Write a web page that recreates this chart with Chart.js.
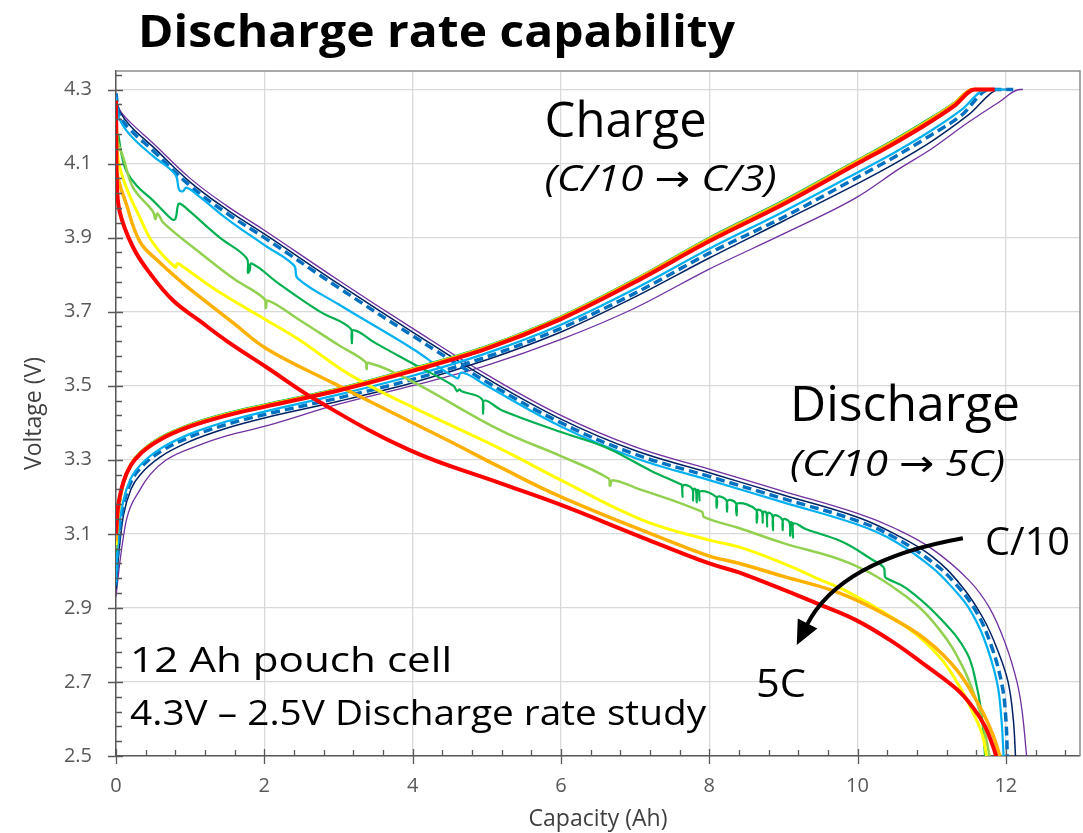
<!DOCTYPE html>
<html>
<head>
<meta charset="utf-8">
<script src="https://cdn.jsdelivr.net/npm/chart.js@4.4.1/dist/chart.umd.min.js"></script>
<style>
  body { margin: 0; background: #fff; }
  canvas { display: block; }
</style>
</head>
<body>
<canvas id="c" width="1083" height="833"></canvas>
<script>
// axis ticks
var xTicks = [0, 2, 4, 6, 8, 10, 12];
var yTicks = [2.5, 2.7, 2.9, 3.1, 3.3, 3.5, 3.7, 3.9, 4.1, 4.3];

// discharge curves (capacity Ah, voltage V)
var dRedX = [0, 0.005, 0.01, 0.05, 0.23, 0.46, 0.77, 1.13, 1.5, 2.03, 2.71, 3.96, 5.18, 6.0, 7.1, 8.0, 8.41, 9.54, 10.0, 10.5, 10.88, 11.34, 11.56, 11.72, 11.82, 11.87];
var dRedV = [4.27, 4.15, 4.06, 3.97, 3.874, 3.803, 3.73, 3.675, 3.62, 3.55, 3.46, 3.326, 3.237, 3.178, 3.09, 3.02, 2.995, 2.905, 2.865, 2.805, 2.75, 2.68, 2.63, 2.58, 2.53, 2.5];
var dOrangeX = [0, 0.01, 0.14, 0.32, 0.55, 0.9, 1.13, 1.58, 2.03, 2.93, 4.0, 4.5, 5.18, 6.0, 7.43, 8.0, 8.41, 9.0, 9.76, 10.44, 10.93, 11.34, 11.65, 11.82, 11.92];
var dOrangeV = [4.2, 4.08, 3.99, 3.89, 3.84, 3.777, 3.74, 3.67, 3.6, 3.507, 3.4, 3.35, 3.28, 3.2, 3.083, 3.04, 3.02, 2.985, 2.94, 2.875, 2.813, 2.732, 2.633, 2.56, 2.5];
var dYellowX = [0.01, 0.03, 0.14, 0.32, 0.5, 0.8, 0.83, 0.88, 1.36, 2.03, 2.48, 3.15, 4.0, 5.18, 6.0, 7.1, 8.0, 8.41, 9.0, 9.45, 9.9, 10.66, 11.11, 11.38, 11.56, 11.68, 11.74];
var dYellowV = [4.2, 4.11, 4.035, 3.955, 3.885, 3.82, 3.83, 3.825, 3.757, 3.677, 3.623, 3.53, 3.442, 3.33, 3.245, 3.137, 3.083, 3.064, 3.02, 2.98, 2.94, 2.848, 2.767, 2.686, 2.616, 2.56, 2.5];
var dLgreenX = [0.02, 0.1, 0.23, 0.5, 0.53, 0.56, 0.64, 1.09, 1.58, 2.0, 2.02, 2.05, 2.48, 3.0, 3.36, 3.38, 3.4, 3.96, 5.18, 6.0, 6.64, 6.66, 6.7, 7.0, 7.9, 7.93, 8.41, 9.0, 9.9, 10.66, 11.11, 11.42, 11.6, 11.7, 11.78];
var dLgreenV = [4.16, 4.115, 4.035, 3.97, 3.95, 3.965, 3.94, 3.866, 3.79, 3.735, 3.71, 3.73, 3.677, 3.61, 3.565, 3.545, 3.562, 3.515, 3.38, 3.31, 3.25, 3.23, 3.245, 3.225, 3.16, 3.145, 3.115, 3.075, 3.02, 2.93, 2.84, 2.74, 2.65, 2.58, 2.5];
var dGreenX = [0.03, 0.08, 0.14, 0.28, 0.5, 0.75, 0.8, 0.84, 0.88, 1.0, 1.4, 1.76, 1.78, 1.8, 1.83, 2.2, 2.75, 3.16, 3.18, 3.2, 3.5, 4.0, 4.55, 4.6, 4.63, 4.66, 4.93, 4.95, 4.97, 5.2, 6.0, 6.6, 7.2, 7.6,
  7.63, 7.64, 7.65, 7.77, 7.78, 7.79, 7.82, 7.83, 7.84, 7.86, 7.87, 7.88, 8.09, 8.1, 8.11, 8.23, 8.24, 8.25, 8.36, 8.37, 8.38, 8.63, 8.64, 8.65, 8.71, 8.72, 8.73,
  8.77, 8.78, 8.79, 8.85, 8.86, 8.87, 8.98, 8.99, 9.0, 9.08, 9.09, 9.1, 9.12, 9.13, 9.14,
  9.3, 9.8, 10.2, 10.35, 10.37, 10.39, 10.66, 11.1, 11.47, 11.61, 11.68, 11.72];
var dGreenV = [4.18, 4.12, 4.08, 4.04, 4.0, 3.95, 3.95, 3.99, 3.99, 3.97, 3.9, 3.845, 3.805, 3.81, 3.83, 3.775, 3.70, 3.655, 3.615, 3.65, 3.615, 3.56, 3.5, 3.485, 3.49, 3.485, 3.465, 3.425, 3.46, 3.434, 3.375, 3.334, 3.272, 3.235,
  3.232, 3.2, 3.231, 3.222, 3.19, 3.221, 3.219, 3.185, 3.218, 3.216, 3.19, 3.215, 3.2, 3.17, 3.2, 3.191, 3.16, 3.19, 3.183, 3.15, 3.182, 3.165, 3.13, 3.164, 3.16, 3.13, 3.159,
  3.157, 3.12, 3.156, 3.15, 3.11, 3.149, 3.14, 3.11, 3.139, 3.132, 3.095, 3.131, 3.129, 3.09, 3.128,
  3.113, 3.078, 3.03, 3.01, 2.985, 2.98, 2.953, 2.875, 2.78, 2.686, 2.6, 2.5];
var dLblueX = [0, 0.05, 0.2, 0.5, 0.8, 0.85, 0.9, 0.95, 1.1, 1.5, 2, 2.4, 2.45, 3, 4, 4.6, 4.65, 4.75, 5, 6, 7, 8, 9, 10, 10.5, 11, 11.3, 11.5, 11.7, 11.88, 11.94, 11.97];
var dLblueV = [4.28, 4.22, 4.175, 4.12, 4.07, 4.03, 4.025, 4.035, 4.015, 3.95, 3.88, 3.825, 3.79, 3.72, 3.6, 3.52, 3.535, 3.53, 3.5, 3.39, 3.305, 3.245, 3.185, 3.125, 3.08, 3.01, 2.95, 2.9, 2.82, 2.7, 2.6, 2.5];
var dBlueX = [0, 0.05, 0.2, 0.5, 1, 1.5, 2, 3, 4, 5, 6, 7, 8, 9, 10, 10.5, 11, 11.3, 11.6, 11.8, 11.95, 12.0, 12.02];
var dBlueV = [4.29, 4.23, 4.19, 4.135, 4.04, 3.965, 3.9, 3.765, 3.635, 3.51, 3.4, 3.315, 3.255, 3.195, 3.135, 3.09, 3.025, 2.97, 2.89, 2.8, 2.69, 2.6, 2.5];
var dNavyX = [0, 0.05, 0.2, 0.5, 1, 1.5, 2, 3, 4, 5, 6, 7, 8, 9, 10, 10.5, 11, 11.4, 11.7, 11.9, 12.03, 12.1, 12.13];
var dNavyV = [4.27, 4.24, 4.2, 4.145, 4.05, 3.975, 3.91, 3.775, 3.645, 3.52, 3.41, 3.325, 3.265, 3.205, 3.145, 3.1, 3.04, 2.96, 2.87, 2.78, 2.7, 2.6, 2.5];
var dPurpleX = [0, 0.05, 0.2, 0.5, 1, 1.5, 2, 3, 4, 5, 6, 7, 8, 9, 10, 10.5, 11, 11.5, 11.78, 12.0, 12.15, 12.22, 12.28];
var dPurpleV = [4.28, 4.245, 4.21, 4.155, 4.06, 3.985, 3.92, 3.785, 3.655, 3.53, 3.42, 3.335, 3.275, 3.215, 3.155, 3.115, 3.06, 2.975, 2.9, 2.8, 2.7, 2.62, 2.5];

// charge curves
var cRedX = [0, 0.02, 0.05, 0.1, 0.2, 0.35, 0.6, 1.0, 1.5, 2, 3, 4, 5, 6, 7, 8, 9, 10, 10.5, 11, 11.3, 11.58, 11.85];
var cRedV = [3.1, 3.16, 3.2, 3.24, 3.285, 3.32, 3.355, 3.39, 3.42, 3.443, 3.487, 3.54, 3.6, 3.68, 3.78, 3.89, 3.99, 4.1, 4.155, 4.215, 4.255, 4.3, 4.3];
var cOrangeX = [0, 0.02, 0.05, 0.1, 0.2, 0.35, 0.6, 1.0, 1.5, 2, 3, 4, 5, 6, 7, 8, 9, 10, 10.5, 11, 11.3, 11.55, 11.8];
var cOrangeV = [3.08, 3.15, 3.195, 3.24, 3.287, 3.322, 3.357, 3.392, 3.422, 3.445, 3.489, 3.543, 3.603, 3.683, 3.784, 3.895, 3.995, 4.105, 4.16, 4.22, 4.26, 4.3, 4.3];
var cYellowX = [0, 0.02, 0.05, 0.1, 0.2, 0.35, 0.6, 1.0, 1.5, 2, 3, 4, 5, 6, 7, 8, 9, 10, 10.5, 11, 11.3, 11.55, 11.75];
var cYellowV = [3.07, 3.14, 3.19, 3.237, 3.286, 3.322, 3.358, 3.393, 3.423, 3.446, 3.49, 3.544, 3.604, 3.684, 3.785, 3.896, 3.996, 4.106, 4.161, 4.221, 4.261, 4.3, 4.3];
var cLgreenX = [0, 0.02, 0.05, 0.1, 0.2, 0.35, 0.6, 1.0, 1.5, 2, 3, 4, 5, 6, 7, 8, 9, 10, 10.5, 11, 11.3, 11.55, 11.72];
var cLgreenV = [3.06, 3.13, 3.185, 3.235, 3.287, 3.323, 3.359, 3.394, 3.424, 3.447, 3.491, 3.545, 3.605, 3.685, 3.786, 3.898, 3.998, 4.108, 4.163, 4.223, 4.262, 4.3, 4.3];
var cGreenX = [0, 0.02, 0.05, 0.1, 0.2, 0.35, 0.6, 1.0, 1.5, 2, 3, 4, 5, 6, 7, 8, 9, 10, 10.5, 11, 11.3, 11.54, 11.7];
var cGreenV = [3.05, 3.12, 3.18, 3.232, 3.288, 3.325, 3.361, 3.396, 3.426, 3.449, 3.493, 3.547, 3.607, 3.687, 3.788, 3.9, 4.0, 4.11, 4.165, 4.225, 4.264, 4.3, 4.3];
var cLblueX = [0, 0.02, 0.05, 0.1, 0.2, 0.35, 0.6, 1.0, 1.5, 2, 3, 4, 5, 6, 7, 8, 9, 10, 10.5, 11, 11.4, 11.74, 12.0];
var cLblueV = [2.97, 3.06, 3.13, 3.19, 3.25, 3.29, 3.33, 3.37, 3.404, 3.43, 3.476, 3.527, 3.588, 3.665, 3.762, 3.87, 3.97, 4.076, 4.13, 4.19, 4.245, 4.3, 4.3];
var cBlueX = [0, 0.02, 0.05, 0.1, 0.2, 0.35, 0.6, 1.0, 1.5, 2, 3, 4, 5, 6, 7, 8, 9, 10, 10.5, 11, 11.4, 11.78, 12.1];
var cBlueV = [2.96, 3.04, 3.11, 3.175, 3.24, 3.282, 3.322, 3.362, 3.396, 3.422, 3.467, 3.517, 3.578, 3.655, 3.75, 3.858, 3.955, 4.063, 4.118, 4.178, 4.23, 4.3, 4.3];
var cNavyX = [0, 0.03, 0.06, 0.1, 0.2, 0.35, 0.6, 1.0, 1.5, 2, 3, 4, 5, 6, 7, 8, 9, 10, 10.5, 11, 11.5, 11.92, 12.05];
var cNavyV = [2.95, 3.03, 3.09, 3.15, 3.22, 3.265, 3.308, 3.35, 3.386, 3.413, 3.458, 3.508, 3.57, 3.645, 3.74, 3.845, 3.945, 4.046, 4.1, 4.16, 4.232, 4.3, 4.3];
var cPurpleX = [0, 0.05, 0.14, 0.32, 0.46, 0.68, 1.13, 1.5, 2, 3, 4, 5, 6, 7, 8, 9, 10, 10.57, 11, 11.47, 11.9, 12.19, 12.23];
var cPurpleV = [2.93, 3.02, 3.137, 3.218, 3.26, 3.3, 3.34, 3.365, 3.39, 3.45, 3.5, 3.555, 3.625, 3.71, 3.815, 3.91, 4.01, 4.087, 4.14, 4.208, 4.265, 4.3, 4.3];

var FONT = "'Open Sans', 'Noto Sans', sans-serif";
Chart.defaults.font.family = FONT;
Chart.defaults.font.size = 20;

function pts(xs, vs) {
    var out = [];
    for (var i = 0; i < xs.length; i++) out.push({ x: xs[i], y: vs[i] });
    return out;
}

// first entry ends up drawn on top
var series = [
    { color: '#FF0000', width: 4,   d: [dRedX, dRedV],       c: [cRedX, cRedV] },
    { color: '#FFB000', width: 3.5, d: [dOrangeX, dOrangeV], c: [cOrangeX, cOrangeV] },
    { color: '#FFFF00', width: 3,   d: [dYellowX, dYellowV], c: [cYellowX, cYellowV] },
    { color: '#92D050', width: 2.5, d: [dLgreenX, dLgreenV], c: [cLgreenX, cLgreenV] },
    { color: '#00B050', width: 2.2, d: [dGreenX, dGreenV],   c: [cGreenX, cGreenV] },
    { color: '#00B0F0', width: 2.2, d: [dLblueX, dLblueV],   c: [cLblueX, cLblueV] },
    { color: '#0070C0', width: 3.5, d: [dBlueX, dBlueV],     c: [cBlueX, cBlueV], dash: [9, 5] },
    { color: '#002060', width: 1.5, d: [dNavyX, dNavyV],     c: [cNavyX, cNavyV] },
    { color: '#7030A0', width: 1.3, d: [dPurpleX, dPurpleV], c: [cPurpleX, cPurpleV] }
];

var datasets = [];
series.forEach(function (s) {
    // charge: monotone spline, discharge: plain bezier
    datasets.push({
        data: pts(s.c[0], s.c[1]),
        borderColor: s.color, borderWidth: s.width, borderDash: s.dash || [],
        showLine: true, pointRadius: 0, fill: false,
        cubicInterpolationMode: 'monotone'
    });
    datasets.push({
        data: pts(s.d[0], s.d[1]),
        borderColor: s.color, borderWidth: s.width, borderDash: s.dash || [],
        showLine: true, pointRadius: 0, fill: false,
        tension: 0.4
    });
});

// runs: [[text, font], ...] drawn in a row, squeezed to width w
function fitRuns(ctx, runs, x, y, w) {
    var total = 0;
    runs.forEach(function (r) { ctx.font = r[1]; r.w = ctx.measureText(r[0]).width; total += r.w; });
    ctx.save();
    ctx.translate(x, y);
    ctx.scale(w / total, 1);
    var cx = 0;
    runs.forEach(function (r) { ctx.font = r[1]; ctx.fillText(r[0], cx, 0); cx += r.w; });
    ctx.restore();
}

//Decorations: frame, tick marks, notes, arrow
var deco = {
    id: 'deco',
    afterDatasetsDraw: function (chart) {
        var ctx = chart.ctx, a = chart.chartArea;
        var sx = chart.scales.x, sy = chart.scales.y;
        ctx.save();

        ctx.strokeStyle = '#8c8c8c';
        ctx.lineWidth = 1.5;
        ctx.beginPath();
        ctx.moveTo(a.left, a.top);
        ctx.lineTo(a.right, a.top);
        ctx.lineTo(a.right, a.bottom);
        ctx.stroke();

        ctx.strokeStyle = '#595959';
        ctx.lineWidth = 1.3;
        ctx.beginPath();
        for (var k = 0; k <= 46; k++) {
            var py = Math.round(sy.getPixelForValue(2.5 + k * 0.04)) + 0.5;
            if (k % 5 === 0) { ctx.moveTo(a.left - 8, py); ctx.lineTo(a.left + 7, py); }
            else { ctx.moveTo(a.left, py); ctx.lineTo(a.left + 6, py); }
        }
        for (var j = 0; j <= 32; j++) {
            var px = Math.round(sx.getPixelForValue(j * 0.4)) + 0.5;
            if (j % 5 === 0) { ctx.moveTo(px, a.bottom - 7); ctx.lineTo(px, a.bottom + 8); }
            else { ctx.moveTo(px, a.bottom); ctx.lineTo(px, a.bottom - 6); }
        }
        ctx.stroke();

        ctx.fillStyle = '#000';
        ctx.textBaseline = 'alphabetic';
        ctx.textAlign = 'left';
        fitRuns(ctx, [['Discharge rate capability', 'bold 45px ' + FONT]], 138, 47, 597);

        var f50 = '50px ' + FONT, it = 'italic 37px ' + FONT, arr = '37px "DejaVu Sans", sans-serif';
        function note(runs, x, v, w) {
            fitRuns(ctx, runs, sx.getPixelForValue(x), sy.getPixelForValue(v), w);
        }
        note([['Charge', f50]], 5.78, 4.173, 162);
        note([['(C/10 ', it], ['\u2192', arr], [' C/3)', it]], 5.78, 4.025, 232);
        note([['Discharge', f50]], 9.09, 3.404, 230);
        note([['(C/10 ', it], ['\u2192', arr], [' 5C)', it]], 9.09, 3.256, 215);
        note([['C/10', '38px ' + FONT]], 11.72, 3.043, 85);
        note([['5C', '38px ' + FONT]], 8.63, 2.66, 50);
        note([['12 Ah pouch cell', '34px ' + FONT]], 0.19, 2.727, 322);
        note([['4.3V \u2013 2.5V Discharge rate study', '34px ' + FONT]], 0.19, 2.584, 576);

        // curved arrow C/10 -> 5C
        var S = { x: sx.getPixelForValue(11.42), y: sy.getPixelForValue(3.088) };
        var C = { x: sx.getPixelForValue(9.76), y: sy.getPixelForValue(3.029) };
        var T = { x: sx.getPixelForValue(9.18), y: sy.getPixelForValue(2.80) };
        var dx = T.x - C.x, dy = T.y - C.y, L = Math.sqrt(dx * dx + dy * dy);
        dx /= L; dy /= L;
        var B = { x: T.x - dx * 24, y: T.y - dy * 24 };
        ctx.strokeStyle = '#000';
        ctx.lineWidth = 4;
        ctx.beginPath();
        ctx.moveTo(S.x, S.y);
        ctx.quadraticCurveTo(C.x, C.y, B.x + dx * 2, B.y + dy * 2);
        ctx.stroke();
        ctx.beginPath();
        ctx.moveTo(T.x, T.y);
        ctx.lineTo(B.x - dy * 11, B.y + dx * 11);
        ctx.lineTo(B.x + dy * 11, B.y - dx * 11);
        ctx.closePath();
        ctx.fill();

        ctx.restore();
    }
};

var ctx = document.getElementById('c');
var chart = new Chart(ctx, {
    type: 'scatter',
    data: { datasets: datasets },
    options: {
        responsive: false,
        animation: false,
        layout: { padding: { top: 71, right: 3, left: 0, bottom: 0 } },
        plugins: { legend: { display: false }, tooltip: { enabled: false } },
        scales: {
            x: {
                type: 'linear',
                min: 0,
                max: 13,
                afterBuildTicks: function (s) { s.ticks = xTicks.map(function (v) { return { value: v }; }); },
                afterFit: function (s) { s.height = 77; },
                grid: { color: '#d9d9d9', lineWidth: 1.3, drawTicks: false },
                border: { color: '#595959', width: 1.5 },
                ticks: { color: '#595959', font: { family: FONT, size: 20 }, padding: 18, maxRotation: 0, autoSkip: false },
                title: { display: true, text: 'Capacity (Ah)', color: '#404040', font: { family: FONT, size: 23 }, padding: { top: 0, bottom: 0 } }
            },
            y: {
                type: 'linear',
                min: 2.5,
                max: 4.35,
                afterBuildTicks: function (s) { s.ticks = yTicks.map(function (v) { return { value: v }; }); },
                afterFit: function (s) { s.width = 116; },
                grid: { color: '#d9d9d9', lineWidth: 1.3, drawTicks: false },
                border: { color: '#595959', width: 1.5 },
                ticks: {
                    color: '#595959', font: { family: FONT, size: 20 }, padding: 24, autoSkip: false,
                    callback: function (v) { return v.toFixed(1); }
                },
                title: { display: true, text: 'Voltage (V)', color: '#404040', font: { family: FONT, size: 23 }, padding: { top: 21, bottom: 0 } }
            }
        }
    },
    plugins: [deco]
});
</script>
</body>
</html>
